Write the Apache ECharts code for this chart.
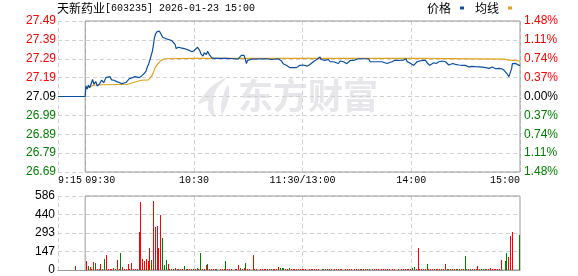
<!DOCTYPE html>
<html>
<head>
<meta charset="utf-8">
<script src="https://cdn.jsdelivr.net/npm/echarts@6/dist/echarts.min.js"></script>
<style>html,body{margin:0;padding:0;background:#fff;}#c{width:578px;height:276px;}</style>
</head>
<body>
<div id="c"></div>
<script>
const stockName = '天新药业';
const stockCode = '603235';
const stamp = '2026-01-23 15:00';
const legendNames = ['价格', '均线'];
const prevClose = 27.09;
const priceTicks = [26.69, 26.79, 26.89, 26.99, 27.09, 27.19, 27.29, 27.39, 27.49];
const volTicks = [0, 146.5, 293, 439.5, 586];
const timeTicks = [-15, 0, 60, 120, 180, 240];
const timeLabels = ['9:15', '09:30', '10:30', '11:30/13:00', '14:00', '15:00'];

// price line: minutes after 09:30 and price
const priceMinutes = [-15, 0, 0.4, 1.1, 1.7, 2.6, 3.5, 4.1, 4.8, 5.9, 6.6, 7.8, 9.0, 10.3, 11.4, 12.2, 13.7, 14.6, 15.9, 17.4, 18.8, 20.1, 21.1, 22.5, 23.5, 24.4, 25.1, 26.2, 27.5, 28.4, 29.9, 31.2, 32.5, 33.6, 34.3, 35.1, 35.8, 36.4, 37.1, 37.7, 38.2, 38.8, 39.5, 41.0, 41.9, 42.8, 43.6, 44.3, 45.1, 46.0, 46.9, 47.8, 48.8, 49.7, 50.2, 51.5, 52.8, 53.9, 54.7, 55.8, 57.1, 58.0, 58.9, 60.2, 61.3, 62.0, 63.2, 63.9, 65.0, 65.7, 66.9, 67.6, 68.7, 70.0, 71.3, 72.0, 72.8, 76.5, 77.4, 78.3, 82.5,
  83.5, 84.4, 85.3, 86.2, 86.8, 87.7, 88.4, 89.0, 89.6, 90.3, 91.8, 100.1, 100.9, 102.9, 103.8, 106.6, 107.5, 108.4, 109.3, 110.2, 111.5, 113.0, 116.7, 117.6, 118.5, 120.4, 121.3, 122.6, 124.1, 125.0, 125.9, 126.9, 127.8, 128.7, 129.6, 130.2, 131.1, 132.4, 133.3, 134.3, 135.2, 136.1, 137.0, 137.9, 139.8, 140.7, 141.6, 142.6, 143.5, 144.4, 145.3, 146.3, 147.2, 148.1, 149.0, 150.9, 154.6, 155.5, 156.4, 157.3, 158.3, 159.2,
  160.1, 163.8, 164.7, 166.6, 167.5, 169.3, 170.8, 171.6, 172.7, 175.8, 176.4, 177.1, 177.6, 178.2, 178.9, 180.0, 181.3, 182.3, 183.2, 184.1, 185.9, 186.9, 187.8, 188.7, 189.6, 190.2, 191.1, 192.4, 193.7, 195.2, 196.1, 197.0, 198.0, 198.9, 199.8, 200.7, 201.7, 202.9, 204.4, 206.3, 208.1, 209.0, 209.9, 211.8, 212.7, 213.3, 214.0, 215.5, 219.2, 220.1, 221.0, 222.0, 222.9, 223.8, 224.7, 225.6, 226.6, 227.5, 228.4, 229.9, 231.2, 232.1, 233.0, 233.9, 234.7, 235.4, 235.8, 236.7, 237.6, 238.6, 239.5, 240];
const priceValues = [27.09, 27.09, 27.146, 27.129, 27.150, 27.137, 27.164, 27.181, 27.155, 27.169, 27.146, 27.155, 27.176, 27.164, 27.19, 27.195, 27.195, 27.178, 27.176, 27.169, 27.164, 27.158, 27.155, 27.164, 27.155, 27.185, 27.194, 27.19, 27.195, 27.186, 27.19, 27.199, 27.211, 27.225, 27.246, 27.264, 27.286, 27.295, 27.33, 27.365, 27.40, 27.42, 27.432, 27.436, 27.427, 27.404, 27.409, 27.397, 27.404, 27.392, 27.40, 27.386, 27.383, 27.365, 27.344, 27.351, 27.348, 27.353, 27.344, 27.344, 27.336, 27.33, 27.327, 27.334, 27.344, 27.351, 27.334, 27.316, 27.304, 27.322, 27.313, 27.33, 27.309, 27.295, 27.292, 27.299, 27.292, 27.292, 27.299, 27.292, 27.29,
  27.30, 27.288, 27.295, 27.308, 27.313, 27.308, 27.286, 27.264, 27.281, 27.286, 27.288, 27.29, 27.286, 27.286, 27.29, 27.29, 27.286, 27.278, 27.264, 27.255, 27.253, 27.243, 27.243, 27.251, 27.255, 27.257, 27.251, 27.251, 27.26, 27.257, 27.274, 27.283, 27.286, 27.295, 27.30, 27.286, 27.278, 27.281, 27.274, 27.286, 27.274, 27.269, 27.274, 27.265, 27.265, 27.278, 27.286, 27.274, 27.265, 27.264, 27.269, 27.281, 27.286, 27.281, 27.286, 27.29, 27.29, 27.283, 27.29, 27.274, 27.265, 27.274,
  27.274, 27.274, 27.265, 27.265, 27.272, 27.274, 27.281, 27.286, 27.281, 27.283, 27.278, 27.29, 27.276, 27.286, 27.269, 27.264, 27.255, 27.265, 27.274, 27.278, 27.281, 27.286, 27.281, 27.269, 27.26, 27.255, 27.264, 27.269, 27.265, 27.274, 27.269, 27.278, 27.269, 27.274, 27.265, 27.257, 27.264, 27.265, 27.26, 27.257, 27.255, 27.257, 27.255, 27.246, 27.239, 27.25, 27.251, 27.248, 27.246, 27.239, 27.243, 27.246, 27.239, 27.243, 27.246, 27.239, 27.237, 27.243, 27.239, 27.237, 27.229, 27.222, 27.208, 27.195, 27.204, 27.239, 27.264, 27.265, 27.265, 27.264, 27.255, 27.255];

// average price line
const avgMinutes = [0, 1.7, 3.5, 5.4, 6.3, 23.8, 24.7, 26.6, 29.4, 31.2, 34.9, 35.8, 36.8, 37.7, 38.6, 39.9, 41.4, 42.9, 44.1, 59.8, 184.0, 184.1, 231.2, 233.9, 234.9, 240];
const avgValues = [27.129, 27.137, 27.146, 27.151, 27.155, 27.155, 27.16, 27.164, 27.172, 27.176, 27.178, 27.186, 27.199, 27.22, 27.243, 27.26, 27.278, 27.286, 27.29, 27.292, 27.292, 27.289, 27.288, 27.283, 27.278, 27.278];

// volume per minute, index = minutes after 09:30 (0..240)
const volume = [0,
  72, 32, 24, 10, 64, 58, 10, 10, 48, 8,
  90, 120, 10, 10, 10, 19, 8, 80, 10, 136,
  27, 10, 10, 48, 10, 56, 10, 10, 10, 303,
  537, 90, 72, 90, 72, 176, 80, 545, 338, 351,
  176, 439, 255, 40, 80, 48, 10, 8, 10, 16,
  8, 8, 8, 8, 32, 8, 8, 8, 8, 8,
  8, 13, 8, 136, 8, 8, 40, 48, 8, 8,
  8, 8, 8, 0, 8, 8, 8, 72, 8, 8,
  8, 0, 8, 8, 40, 13, 8, 19, 56, 8,
  8, 0, 120, 8, 8, 0, 8, 8, 8, 8,
  8, 8, 8, 8, 8, 8, 24, 13, 19, 19,
  8, 8, 16, 8, 8, 8, 8, 8, 8, 8,
  8, 8, 0, 8, 8, 8, 8, 8, 8, 0,
  10, 8, 8, 8, 8, 8, 0, 8, 8, 8,
  8, 8, 0, 8, 8, 8, 8, 0, 8, 8,
  8, 8, 8, 8, 8, 8, 8, 0, 8, 8,
  8, 8, 0, 8, 8, 8, 8, 8, 0, 8,
  8, 0, 8, 0, 8, 8, 8, 8, 8, 8,
  19, 24, 8, 176, 8, 8, 8, 8, 48, 8,
  8, 8, 8, 8, 8, 8, 8, 8, 48, 8,
  8, 8, 8, 8, 8, 8, 8, 8, 8, 112,
  8, 8, 8, 8, 8, 8, 32, 8, 8, 8,
  8, 8, 8, 19, 8, 8, 8, 8, 8, 80,
  0, 72, 136, 104, 272, 304, 0, 0, 0, 280];
const volDir = ('r' +
  'rgrrrgrrrg' + 'grrrrrgrrg' + 'rrrrrrrrrr' + 'rrrrrrgrrr' + 'rrgggrrgrg' +
  'rgrrgrgrrg' + 'rgrgrrrgrg' + 'rrgrrrrgrr' + 'rrrrrgrrgr' + 'rrrrrrrrrr' +
  'grgrrrrggg' + 'rrgrrrrrrr' + 'rrrrrrrrrr' + 'grggrrrrrg' + 'rrrgrrrrrr' +
  'grgrgrgrrr' + 'rrrrrrrrrr' + 'rrgrrrrrrr' + 'ggrrrrrrgr' + 'rrgrrrgrrr' +
  'grrggrgrrg' + 'grgrgrrrgg' + 'grrrrrrrrr' + 'rggrrrrrrg').split('');
const auctionMinute = -5;
const auctionVolume = 34;
const auctionDir = 'r';

const RED = '#ff0000', GREEN = '#008000';
const GRIDC = '#d2d2d2', BORDER = '#999999';
const numFont = '"Liberation Sans", Arial, sans-serif';
const monoFont = '"Liberation Mono", "DejaVu Sans Mono", monospace';
const cjkFont = '"Noto Sans CJK SC", sans-serif';

const priceData = priceMinutes.map((m, i) => [m, priceValues[i]]);
const avgData = avgMinutes.map((m, i) => [m, avgValues[i]]);
const volData = [[auctionMinute, auctionVolume, auctionDir === 'r' ? 1 : -1]];
volume.forEach((v, i) => { volData.push([i, v, volDir[i] === 'r' ? 1 : -1]); });

const pMin = priceTicks[0], pMax = priceTicks[priceTicks.length - 1];
const tMin = timeTicks[0], tMax = timeTicks[timeTicks.length - 1];
const sessStart = timeTicks[1];
const vMax = volTicks[volTicks.length - 1];
const labelOf = v => timeLabels[timeTicks.indexOf(v)];
const dashed = { show: true, lineStyle: { color: GRIDC, type: [4, 3], width: 1 } };
const priceColor = v => (v > prevClose + 1e-6 ? RED : (v < prevClose - 1e-6 ? GREEN : '#000'));

const baseX = (extra) => Object.assign({
  type: 'value', gridIndex: 0, min: tMin, max: tMax, position: 'bottom', offset: 0,
  axisLine: { show: false }, axisTick: { show: false }, splitLine: { show: false }
}, extra);

// crisp 1px volume bars through the axis scales
function renderVol(params, api) {
  const v = api.value(1);
  if (!v) return null;
  const top = api.coord([api.value(0), v]);
  const base = api.coord([api.value(0), 0]);
  const x = Math.round(top[0]) - 1;
  const y = Math.round(top[1]);
  return {
    type: 'rect',
    shape: { x: x, y: y, width: 1, height: Math.max(1, Math.round(base[1]) - y) },
    style: { fill: api.value(2) > 0 ? RED : GREEN }
  };
}

const chart = echarts.init(document.getElementById('c'), null, { renderer: 'canvas' });
chart.setOption({
  animation: false,
  backgroundColor: '#fff',
  title: {
    left: 57, top: 1, padding: 0,
    text: '{c|' + stockName + '}{a|[' + stockCode + '] ' + stamp + '}',
    textStyle: {
      fontWeight: 'normal',
      rich: {
        c: { fontFamily: cjkFont, fontSize: 12, fontWeight: 'normal', color: '#000', lineHeight: 14 },
        a: { fontFamily: monoFont, fontSize: 10, fontWeight: 'normal', color: '#000', lineHeight: 14 }
      }
    }
  },
  legend: {
    right: 66, top: 2, padding: 0,
    data: legendNames, icon: 'rect', itemWidth: 4, itemHeight: 3, itemGap: 11,
    align: 'right', selectedMode: false,
    textStyle: { fontFamily: cjkFont, fontSize: 12, color: '#000', padding: [0, 4, 0, 0] }
  },
  graphic: [
    {
      type: 'polygon', silent: true, z: -10,
      shape: { points: [[226, 78], [212, 86], [203, 96], [198, 104], [208, 101], [208, 110], [215, 117], [213, 104], [216, 90]], smooth: 0.3 },
      style: { fill: '#e6e6eb' }
    },
    {
      type: 'polygon', silent: true, z: -10,
      shape: { points: [[228, 85], [223, 96], [221, 106], [222, 114], [227, 104], [229, 94]], smooth: 0.3 },
      style: { fill: '#e6e6eb' }
    },
    {
      type: 'text', silent: true, z: -10, left: 238, top: 78,
      style: { text: '东方财富', font: 'bold 35px "Noto Sans CJK SC"', fill: '#e6e6eb' }
    }
  ],
  grid: [
    { left: 58, width: 462, top: 21, height: 151 },
    { left: 58, width: 462, top: 196, height: 74 }
  ],
  xAxis: [
    baseX({
      axisTick: { show: false, customValues: timeTicks },
      splitLine: dashed,
      axisLabel: { customValues: timeTicks.slice(2, 5), formatter: labelOf, margin: 3,
        fontFamily: monoFont, fontSize: 10, color: '#000' }
    }),
    baseX({
      axisLabel: { customValues: timeTicks.slice(0, 2), formatter: labelOf, margin: 3, align: 'left',
        fontFamily: monoFont, fontSize: 10, color: '#000' }
    }),
    baseX({
      axisLabel: { customValues: timeTicks.slice(5), formatter: labelOf, margin: 3, align: 'right',
        fontFamily: monoFont, fontSize: 10, color: '#000' }
    }),
    {
      type: 'value', gridIndex: 1, min: tMin, max: tMax, position: 'bottom',
      axisLine: { show: true, lineStyle: { color: BORDER, width: 1 } },
      axisTick: { show: false, customValues: [timeTicks[0], timeTicks[2], timeTicks[3], timeTicks[4]] },
      splitLine: dashed,
      axisLabel: { show: false }
    }
  ],
  yAxis: [
    {
      type: 'value', gridIndex: 0, min: pMin, max: pMax, position: 'left',
      axisLine: { show: false },
      axisTick: { show: false, customValues: priceTicks },
      splitLine: dashed,
      axisLabel: { customValues: priceTicks, formatter: v => v.toFixed(2), margin: 2,
        fontFamily: numFont, fontSize: 12, color: priceColor }
    },
    {
      type: 'value', gridIndex: 0, min: pMin, max: pMax, position: 'right',
      axisLine: { show: false },
      axisTick: { show: false, customValues: priceTicks },
      splitLine: { show: false },
      axisLabel: { customValues: priceTicks, margin: 4,
        formatter: v => Math.abs((v - prevClose) / prevClose * 100).toFixed(2) + '%',
        fontFamily: numFont, fontSize: 12, color: priceColor }
    },
    {
      type: 'value', gridIndex: 1, min: 0, max: vMax, position: 'left',
      axisLine: { show: false },
      axisTick: { show: false, customValues: volTicks },
      splitLine: dashed,
      axisLabel: { customValues: volTicks, formatter: v => String(Math.round(v)), margin: 3,
        fontFamily: numFont, fontSize: 12, color: '#000' }
    }
  ],
  series: [
    {
      name: legendNames[0], type: 'line', xAxisIndex: 0, yAxisIndex: 0,
      data: priceData, showSymbol: false, symbol: 'none', color: '#0a4ea0',
      lineStyle: { width: 1.2, color: '#0a4ea0' }, z: 4,
      markArea: {
        silent: true,
        itemStyle: { color: 'rgba(0,0,0,0)', borderColor: BORDER, borderWidth: 1 },
        data: [[{ xAxis: sessStart, yAxis: pMin }, { xAxis: tMax, yAxis: pMax }]]
      }
    },
    {
      name: legendNames[1], type: 'line', xAxisIndex: 0, yAxisIndex: 0,
      data: avgData, showSymbol: false, symbol: 'none', color: '#e0a11b',
      lineStyle: { width: 1.2, color: '#e0a11b' }, z: 3
    },
    {
      name: 'vol', type: 'custom', xAxisIndex: 3, yAxisIndex: 2,
      data: volData, renderItem: renderVol, encode: { x: 0, y: 1 }, z: 3,
      markArea: {
        silent: true,
        itemStyle: { color: 'rgba(0,0,0,0)', borderColor: BORDER, borderWidth: 1 },
        data: [[{ xAxis: sessStart, yAxis: 0 }, { xAxis: tMax, yAxis: vMax }]]
      }
    }
  ]
});
</script>
</body>
</html>
